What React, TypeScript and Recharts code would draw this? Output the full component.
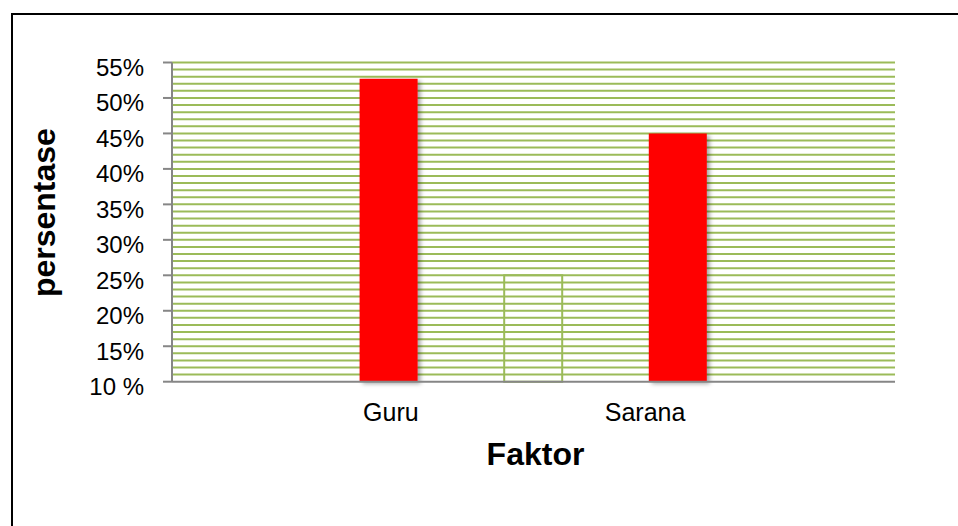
import { Bar, BarChart, CartesianGrid, XAxis, YAxis } from "recharts";

// Five slots on the category axis; only two carry a label.
const factors = ["", "Guru", "", "Sarana", ""];
const filledValues = [null, 52.7, null, 45, null];
const outlineValues = [null, null, 25, null, null];

const yTicks = [10, 15, 20, 25, 30, 35, 40, 45, 50, 55];
const yTickLabels = ["10 %", "15%", "20%", "25%", "30%", "35%", "40%", "45%", "50%", "55%"];

// Minor gridlines every 1% above the axis.
const gridValues = Array.from({ length: 45 }, (_, i) => 11 + i);

const data = factors.map((factor, i) => ({
  factor,
  filled: filledValues[i],
  outline: outlineValues[i],
}));

const FONT = "'Liberation Sans', Arial, sans-serif";
const GRID = "#9bbb59";
const AXIS = "#868686";
const BAR_W = 58;

// The Sarana label sits left of its bar in the original.
const labelShift: Record<string, number> = { Sarana: -33, Guru: 2 };

function XTick({ x, y, payload }: any) {
  const v = payload.value as string;
  if (!v) return null;
  return (
    <text x={x + (labelShift[v] ?? 0)} y={y + 39} textAnchor="middle" fontSize={25} fontFamily={FONT} fill="#000">
      {v}
    </text>
  );
}

function YTick({ x, y, payload }: any) {
  const idx = yTicks.indexOf(payload.value);
  return (
    <text x={x} y={y + 13.5} textAnchor="end" fontSize={24} fontFamily={FONT} fill="#000">
      {yTickLabels[idx]}
    </text>
  );
}

export default function App() {
  return (
    <div style={{ position: "fixed", left: 0, top: 0, width: 958, height: 526, overflow: "hidden", background: "#fff" }}>
      <div
        style={{
          position: "absolute",
          left: 11,
          top: 13,
          width: 980,
          height: 560,
          border: "2px solid #000",
          boxSizing: "border-box",
        }}
      />
      <div style={{ position: "absolute", left: 0, top: 0 }}>
        <BarChart
          width={958}
          height={526}
          data={data}
          margin={{ top: 62.5, right: 63, bottom: 44.3, left: 20 }}
          barGap={-BAR_W}
        >
          <defs>
            <filter id="barShadow" x="-20%" y="-5%" width="150%" height="115%">
              <feDropShadow dx="3" dy="2" stdDeviation="2" floodColor="#000" floodOpacity="0.35" />
            </filter>
          </defs>
          <CartesianGrid
            vertical={false}
            horizontalValues={gridValues}
            stroke={GRID}
            strokeWidth={2}
          />
          <XAxis
            dataKey="factor"
            height={100}
            tickLine={false}
            axisLine={{ stroke: AXIS, strokeWidth: 2 }}
            tickSize={0}
            tickMargin={0}
            interval={0}
            tick={<XTick />}
            label={{
              content: ({ viewBox }: any) => (
                <text
                  x={viewBox.x + viewBox.width / 2 + 2}
                  y={viewBox.y + 83}
                  textAnchor="middle"
                  fontSize={32}
                  fontWeight="bold"
                  fontFamily={FONT}
                  fill="#000"
                >
                  Faktor
                </text>
              ),
            }}
          />
          <YAxis
            type="number"
            domain={[10, 55]}
            ticks={yTicks}
            width={152}
            interval={0}
            axisLine={{ stroke: AXIS, strokeWidth: 2 }}
            tickLine={{ stroke: AXIS, strokeWidth: 2 }}
            tickSize={9}
            tickMargin={19}
            tick={<YTick />}
            label={{
              content: ({ viewBox }: any) => {
                const cx = viewBox.x + 35;
                const cy = viewBox.y + viewBox.height / 2 - 9.5;
                return (
                  <text
                    x={cx}
                    y={cy}
                    transform={`rotate(-90 ${cx} ${cy})`}
                    textAnchor="middle"
                    fontSize={32}
                    fontWeight="bold"
                    fontFamily={FONT}
                    fill="#000"
                  >
                    persentase
                  </text>
                );
              },
            }}
          />
          <Bar dataKey="filled" fill="#ff0000" barSize={BAR_W} filter="url(#barShadow)" isAnimationActive={false} />
          <Bar
            dataKey="outline"
            fill="none"
            stroke={GRID}
            strokeWidth={2}
            barSize={BAR_W}
            isAnimationActive={false}
          />
        </BarChart>
      </div>
    </div>
  );
}
